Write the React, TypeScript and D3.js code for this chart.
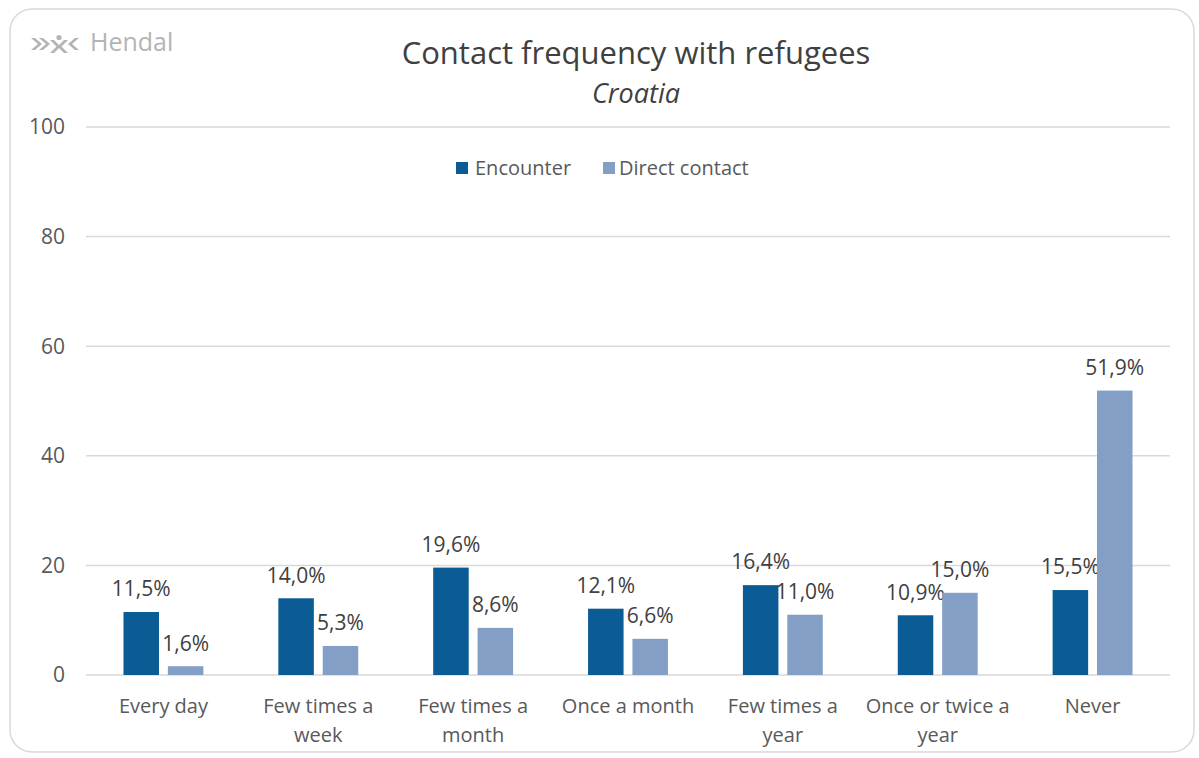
import { useMemo } from "react";
import * as d3 from "d3";

const categories = [
  "Every day",
  "Few times a|week",
  "Few times a|month",
  "Once a month",
  "Few times a|year",
  "Once or twice a|year",
  "Never",
];
const seriesNames = ["Encounter", "Direct contact"];
const encounter = [11.5, 14.0, 19.6, 12.1, 16.4, 10.9, 15.5];
const directContact = [1.6, 5.3, 8.6, 6.6, 11.0, 15.0, 51.9];
const yTicks = [0, 20, 40, 60, 80, 100];

const WIDTH = 1199;
const HEIGHT = 758;
const PLOT_LEFT = 86;
const PLOT_RIGHT = 1170;
const PLOT_TOP = 127;
const PLOT_BOTTOM = 675;
const FONT = "'Open Sans', 'Noto Sans', sans-serif";

const colors = ["#0B5C94", "#849FC5"];

const fmt = (v: number) => v.toFixed(1).replace(".", ",") + "%";

export default function App() {
  const x0 = useMemo(
    () =>
      d3
        .scaleBand<string>()
        .domain(categories)
        .range([PLOT_LEFT, PLOT_RIGHT])
        .paddingInner(0.484)
        .paddingOuter(0.242),
    []
  );
  const x1 = useMemo(
    () =>
      d3
        .scaleBand<string>()
        .domain(seriesNames)
        .range([0, x0.bandwidth()])
        .paddingInner(0.2),
    [x0]
  );
  const y = useMemo(
    () => d3.scaleLinear().domain([0, 100]).range([PLOT_BOTTOM, PLOT_TOP]),
    []
  );

  const values = [encounter, directContact];

  return (
    <svg
      width={WIDTH}
      height={HEIGHT}
      style={{ position: "absolute", left: 0, top: 0, display: "block" }}
      fontFamily={FONT}
    >
      <rect width={WIDTH} height={HEIGHT} fill="#fff" />
      <rect
        x={10}
        y={9}
        width={1184}
        height={743}
        rx={22}
        fill="#fff"
        stroke="#D9D9D9"
        strokeWidth={1.5}
      />

      {/* logo */}
      <g fill="#B4B4B4" transform="translate(31,35)">
        <path d="M0,3 L7,9 L0,15 L4,15 L11,9 L4,3 Z" />
        <path d="M8,3 L15,9 L8,15 L12,15 L19,9 L12,3 Z" />
        <circle cx={28} cy={2.5} r={2.6} />
        <path d="M19,5 L23,5 L28,10 L33,5 L37,5 L30.5,11.5 L37,18 L33,18 L28,13 L23,18 L19,18 L25.5,11.5 Z" />
        <path d="M48,3 L41,9 L48,15 L44,15 L37,9 L44,3 Z" />
      </g>
      <text x={90} y={51} fontSize={25} fill="#B4B4B4">
        Hendal
      </text>

      {/* title */}
      <text x={636} y={64} textAnchor="middle" fontSize={31} fill="#404040">
        Contact frequency with refugees
      </text>
      <text
        x={636}
        y={103}
        textAnchor="middle"
        fontSize={27}
        fontStyle="italic"
        fill="#404040"
      >
        Croatia
      </text>

      {/* grid */}
      {yTicks.map((t) => (
        <g key={t}>
          <line
            x1={PLOT_LEFT}
            x2={PLOT_RIGHT}
            y1={y(t)}
            y2={y(t)}
            stroke="#D9D9D9"
            strokeWidth={1.5}
          />
          <text
            x={65}
            y={y(t)}
            dy="0.35em"
            textAnchor="end"
            fontSize={21}
            fill="#595959"
          >
            {t}
          </text>
        </g>
      ))}

      {/* legend */}
      <g fontSize={20} fill="#595959">
        <rect x={456} y={162} width={12} height={12} fill={colors[0]} />
        <text x={475} y={168} dy="0.35em">
          {seriesNames[0]}
        </text>
        <rect x={603} y={162} width={12} height={12} fill={colors[1]} />
        <text x={619} y={168} dy="0.35em">
          {seriesNames[1]}
        </text>
      </g>

      {/* bars */}
      {categories.map((c, i) => (
        <g key={c} transform={`translate(${x0(c)},0)`}>
          {seriesNames.map((s, j) => {
            const v = values[j][i];
            const bx = x1(s)!;
            return (
              <g key={s}>
                <rect
                  x={bx}
                  y={y(v)}
                  width={x1.bandwidth()}
                  height={PLOT_BOTTOM - y(v)}
                  fill={colors[j]}
                />
                <text
                  x={bx + x1.bandwidth() / 2}
                  y={y(v) - 23}
                  dy="0.35em"
                  textAnchor="middle"
                  fontSize={21}
                  fill="#404040"
                >
                  {fmt(v)}
                </text>
              </g>
            );
          })}
          {c.split("|").map((line, k) => (
            <text
              key={k}
              x={x0.bandwidth() / 2}
              y={706 + k * 29}
              dy="0.35em"
              textAnchor="middle"
              fontSize={20}
              fill="#595959"
            >
              {line}
            </text>
          ))}
        </g>
      ))}
    </svg>
  );
}
